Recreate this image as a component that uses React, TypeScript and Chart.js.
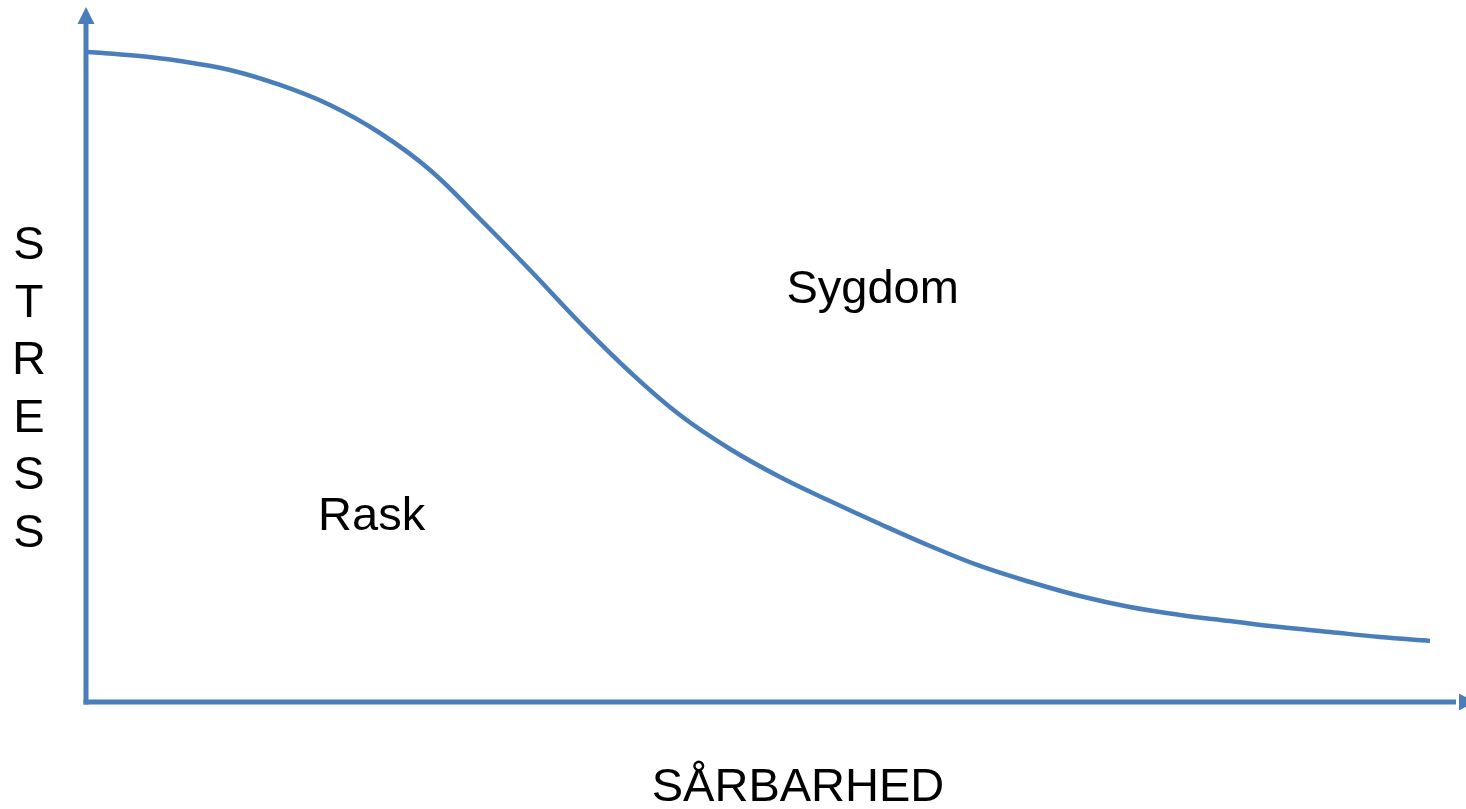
import React, { useEffect, useRef } from "react";
import { Chart, registerables } from "chart.js";

Chart.register(...registerables);

// Curve (vulnerability x, stress y), both on 0..100 scales
const curveX = [0.14, 3.48, 6.81, 10.43, 14.06, 17.68, 21.3, 24.93, 28.55, 32.17, 35.8, 39.42, 43.04, 46.67, 50.29, 53.91, 57.54, 61.16, 64.78, 68.41, 72.03, 75.65, 79.28, 82.9, 86.52, 90.14, 93.77, 97.39];
const curveY = [93.53, 93.02, 92.23, 90.94, 88.78, 85.9, 81.87, 76.55, 69.5, 62.16, 54.53, 47.48, 41.29, 36.4, 32.37, 28.92, 25.61, 22.45, 19.57, 17.27, 15.25, 13.67, 12.52, 11.65, 10.79, 10.07, 9.35, 8.78];

const regionLabels = ["Sygdom", "Rask"];
const regionX = [57.0, 20.7];
const regionY = [59.3, 26.6];

const xTitle = "SÅRBARHED";
const yTitle = "STRESS";

const BLUE = "#4a7ebb";
const FONT = "'Liberation Sans', Arial, sans-serif";

const decorPlugin = {
  id: "decor",
  beforeDatasetsDraw(chart: any) {
    const ctx = chart.ctx;
    const { left, right, top, bottom } = chart.chartArea;
    ctx.save();
    ctx.strokeStyle = BLUE;
    ctx.fillStyle = BLUE;
    ctx.lineWidth = 5;
    ctx.lineCap = "butt";
    // y axis
    ctx.beginPath();
    ctx.moveTo(left, bottom + 2.5);
    ctx.lineTo(left, top + 14);
    ctx.stroke();
    ctx.beginPath();
    ctx.moveTo(left, top);
    ctx.lineTo(left - 8.5, top + 17);
    ctx.lineTo(left + 8.5, top + 17);
    ctx.closePath();
    ctx.fill();
    // x axis
    ctx.beginPath();
    ctx.moveTo(left - 2.5, bottom);
    ctx.lineTo(right - 10, bottom);
    ctx.stroke();
    ctx.beginPath();
    ctx.moveTo(right + 9, bottom);
    ctx.lineTo(right - 7, bottom - 8.5);
    ctx.lineTo(right - 7, bottom + 8.5);
    ctx.closePath();
    ctx.fill();
    ctx.restore();
  },
  afterDatasetsDraw(chart: any) {
    const ctx = chart.ctx;
    const xs = chart.scales.x;
    const ys = chart.scales.y;
    const { left, right, bottom } = chart.chartArea;
    ctx.save();
    ctx.fillStyle = "#000";
    ctx.textAlign = "center";
    ctx.textBaseline = "middle";
    ctx.font = `47px ${FONT}`;
    regionLabels.forEach((t, i) => {
      ctx.fillText(t, xs.getPixelForValue(regionX[i]), ys.getPixelForValue(regionY[i]));
    });
    ctx.fillText(xTitle, (left + right) / 2 + 22, bottom + 86);
    const letters = yTitle.split("");
    const pitch = 57.6;
    const startY = 246;
    letters.forEach((ch, i) => {
      ctx.fillText(ch, left - 57, startY + i * pitch);
    });
    ctx.restore();
  },
};

export default function App() {
  const ref = useRef<HTMLCanvasElement>(null);
  useEffect(() => {
    if (!ref.current) return;
    const chart = new Chart(ref.current, {
      type: "line",
      data: {
        datasets: [
          {
            data: curveX.map((x, i) => ({ x, y: curveY[i] })),
            borderColor: BLUE,
            borderWidth: 4.5,
            pointRadius: 0,
            fill: false,
            tension: 0.4,
          },
        ],
      },
      options: {
        animation: false,
        responsive: false,
        events: [],
        layout: { padding: { left: 86, right: 0, top: 7, bottom: 107 } },
        plugins: { legend: { display: false }, tooltip: { enabled: false } },
        scales: {
          x: { type: "linear", min: 0, max: 100, display: false },
          y: { type: "linear", min: 0, max: 100, display: false },
        },
      },
      plugins: [decorPlugin],
    });
    return () => chart.destroy();
  }, []);
  return (
    <div style={{ position: "absolute", left: 0, top: 0, width: 1466, height: 809, background: "#fff" }}>
      <canvas ref={ref} width={1466} height={809} />
    </div>
  );
}
